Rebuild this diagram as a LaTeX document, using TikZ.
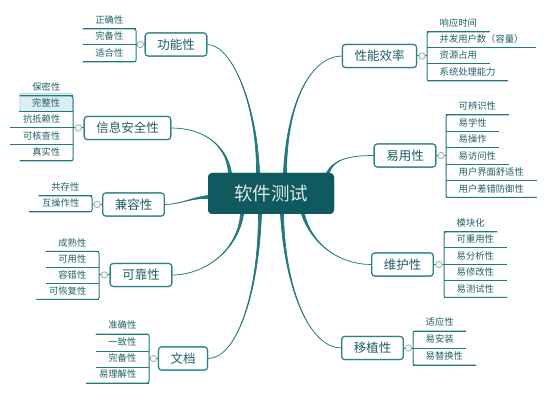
\documentclass[tikz,border=0pt]{standalone}
\usepackage{fontspec}
\setmainfont{Noto Sans CJK SC}
\usetikzlibrary{calc}
\definecolor{lc}{HTML}{22787E}
\definecolor{bc}{HTML}{2B7F86}
\definecolor{tc}{HTML}{1F5F66}
\definecolor{cf}{HTML}{10595F}
\definecolor{ct}{HTML}{DCE8E9}
\definecolor{hl}{HTML}{DDEEF3}
\definecolor{hlb}{HTML}{B9DAE3}
\definecolor{knobc}{HTML}{8FAFB1}
\tikzset{
 topic/.style={draw=bc, line width=1.1pt, rounded corners=3pt, fill=white, text=tc, font=\fontsize{12.5}{14}\selectfont, minimum height=23pt, inner xsep=12pt, inner ysep=0pt},
 central/.style={fill=cf, rounded corners=4pt, text=ct, font=\fontsize{18.5}{20}\selectfont, minimum width=126pt, minimum height=41pt},
 item/.style={text=tc, font=\fontsize{9.3}{11}\selectfont, inner xsep=12.5pt, inner ysep=5pt, text height=8pt, text depth=0pt},
 itemR/.style={item, anchor=south west},
 itemL/.style={item, anchor=south east},
 uline/.style={draw=lc, line width=1pt},
 knob/.style={circle, draw=knobc, fill=white!88!knobc, line width=0.7pt, minimum size=6.5pt, inner sep=0pt},
 branch/.style={fill=lc, draw=lc, line width=0.7pt},
}
\newcommand\tbranch[5]{\filldraw[branch] #1 .. controls #3 and #4 .. #5 .. controls #4 and #3 .. #2 -- cycle;}
\begin{document}
\begin{tikzpicture}[x=1pt,y=-1pt]
\useasboundingbox (0,0) rectangle (554,403);
% topics
\node[central] (c) at (271,193.5) {软件测试};
\node[topic] (gn) at (176,44.5) {功能性};
\node[topic] (sn) at (127.5,128) {信息安全性};
\node[topic] (jn) at (133.5,204.5) {兼容性};
\node[topic] (kn) at (141,275) {可靠性};
\node[topic] (wn) at (183,358.5) {文档};
\node[topic] (xn) at (379.5,56) {性能效率};
\node[topic] (yn) at (405,155.5) {易用性};
\node[topic] (hn) at (402.5,264.5) {维护性};
\node[topic] (zn) at (372.5,348) {移植性};
% branches
\tbranch{($(c.north)+(-14.5,0)$)}{($(c.north)+(-11.5,0)$)}{(257,105)}{(232,44.5)}{(gn.east)}
\tbranch{($(c.north)+(-42.5,0)$)}{($(c.north)+(-39.5,0)$)}{(226,142)}{(200,128)}{(sn.east)}
\tbranch{($(c.west)+(0,2)$)}{($(c.west)+(0,5)$)}{(190,198)}{(180,204.5)}{(jn.east)}
\tbranch{($(c.south)+(-30.5,0)$)}{($(c.south)+(-27.5,0)$)}{(238,250)}{(205,275)}{(kn.east)}
\tbranch{($(c.south)+(-12.5,0)$)}{($(c.south)+(-9.5,0)$)}{(258,300)}{(235,358.5)}{(wn.east)}
\tbranch{($(c.north)+(12.5,0)$)}{($(c.north)+(15.5,0)$)}{(287,100)}{(312,56)}{(xn.west)}
\tbranch{($(c.north)+(55.5,0)$)}{($(c.north)+(58.5,0)$)}{(333,160)}{(348,155.5)}{(yn.west)}
\tbranch{($(c.south)+(30.5,0)$)}{($(c.south)+(33.5,0)$)}{(312,245)}{(340,264.5)}{(hn.west)}
\tbranch{($(c.south)+(9.5,0)$)}{($(c.south)+(12.5,0)$)}{(285,290)}{(310,348)}{(zn.west)}
% redraw topics over branches
\node[central] at (c) {软件测试};
\node[topic] at (gn) {功能性};
\node[topic] at (sn) {信息安全性};
\node[topic] at (jn) {兼容性};
\node[topic] at (kn) {可靠性};
\node[topic] at (wn) {文档};
\node[topic] at (xn) {性能效率};
\node[topic] at (yn) {易用性};
\node[topic] at (hn) {维护性};
\node[topic] at (zn) {移植性};
% ---- 功能性
\foreach \t/\y [count=\i] in {正确性/29, 完备性/45, 适合性/62} {
  \node[itemL] (ga\i) at (136,\y) {\t};
  \draw[uline] (ga\i.south west) -- (ga\i.south east);}
\draw[uline, rounded corners=2pt] (ga1.south west) -- (ga1.south east) -- (ga3.south east) -- (ga3.south west);
\draw[uline] (gn.west) -- (gn.west -| ga1.south east);
\node[knob] (gk) at ($(gn.west)!0.5!(gn.west -| ga1.south east)$) {};
% ---- 信息安全性
\node[itemL, fill=hl, draw=hlb, line width=0.8pt, rounded corners=1pt] (sa2) at (73,112) {完整性};
\foreach \t/\y [count=\i] in {保密性/96, 完整性/112, 抗抵赖性/128, 可核查性/144.5, 真实性/161} {
  \ifnum\i=2\else\node[itemL] (sa\i) at (73,\y) {\t};\fi
  \draw[uline] (sa\i.south west) -- (sa\i.south east);}
\draw[uline, rounded corners=2pt] (sa1.south west) -- (sa1.south east) -- (sa5.south east) -- (sa5.south west);
\draw[uline] (sn.west) -- (sn.west -| sa1.south east);
\node[knob] (sk) at ($(sn.west)!0.5!(sn.west -| sa1.south east)$) {};
% ---- 兼容性
\foreach \t/\y [count=\i] in {共存性/196, 互操作性/212} {
  \node[itemL] (ja\i) at (92,\y) {\t};
  \draw[uline] (ja\i.south west) -- (ja\i.south east);}
\draw[uline, rounded corners=2pt] (ja1.south west) -- (ja1.south east) -- (ja2.south east) -- (ja2.south west);
\draw[uline] (jn.west) -- (jn.west -| ja1.south east);
\node[knob] (jk) at ($(jn.west)!0.5!(jn.west -| ja1.south east)$) {};
% ---- 可靠性
\foreach \t/\y [count=\i] in {成熟性/251.5, 可用性/267.5, 容错性/283.5, 可恢复性/299.5} {
  \node[itemL] (ka\i) at (99,\y) {\t};
  \draw[uline] (ka\i.south west) -- (ka\i.south east);}
\draw[uline, rounded corners=2pt] (ka1.south west) -- (ka1.south east) -- (ka4.south east) -- (ka4.south west);
\draw[uline] (kn.west) -- (kn.west -| ka1.south east);
\node[knob] (kk) at ($(kn.west)!0.5!(kn.west -| ka1.south east)$) {};
% ---- 文档
\foreach \t/\y [count=\i] in {准确性/334, 一致性/351, 完备性/367, 易理解性/383} {
  \node[itemL] (wa\i) at (149,\y) {\t};
  \draw[uline] (wa\i.south west) -- (wa\i.south east);}
\draw[uline, rounded corners=2pt] (wa1.south west) -- (wa1.south east) -- (wa4.south east) -- (wa4.south west);
\draw[uline] (wn.west) -- (wn.west -| wa1.south east);
\node[knob] (wk) at ($(wn.west)!0.5!(wn.west -| wa1.south east)$) {};
% ---- 性能效率
\foreach \t/\y [count=\i] in {响应时间/32, 并发用户数（容量）/48, 资源占用/64, 系统处理能力/81} {
  \node[itemR] (xa\i) at (427,\y) {\t};
  \draw[uline] (xa\i.south west) -- (xa\i.south east);}
\draw[uline, rounded corners=2pt] (xa1.south east) -- (xa1.south west) -- (xa4.south west) -- (xa4.south east);
\draw[uline] (xn.east) -- (xn.east -| xa1.south west);
\node[knob] (xk) at ($(xn.east)!0.5!(xn.east -| xa1.south west)$) {};
% ---- 易用性
\foreach \t/\y [count=\i] in {可辨识性/115, 易学性/131.5, 易操作/148, 易访问性/164.5, 用户界面舒适性/181, 用户差错防御性/197.5} {
  \node[itemR] (ya\i) at (446,\y) {\t};
  \draw[uline] (ya\i.south west) -- (ya\i.south east);}
\draw[uline, rounded corners=2pt] (ya1.south east) -- (ya1.south west) -- (ya6.south west) -- (ya6.south east);
\draw[uline] (yn.east) -- (yn.east -| ya1.south west);
\node[knob] (yk) at ($(yn.east)!0.5!(yn.east -| ya1.south west)$) {};
% ---- 维护性
\foreach \t/\y [count=\i] in {模块化/232, 可重用性/248, 易分析性/264.5, 易修改性/281, 易测试性/297.5} {
  \node[itemR] (ha\i) at (444,\y) {\t};
  \draw[uline] (ha\i.south west) -- (ha\i.south east);}
\draw[uline, rounded corners=2pt] (ha1.south east) -- (ha1.south west) -- (ha5.south west) -- (ha5.south east);
\draw[uline] (hn.east) -- (hn.east -| ha1.south west);
\node[knob] (hk) at ($(hn.east)!0.5!(hn.east -| ha1.south west)$) {};
% ---- 移植性
\foreach \t/\y [count=\i] in {适应性/331, 易安装/348, 易替换性/365} {
  \node[itemR] (za\i) at (413,\y) {\t};
  \draw[uline] (za\i.south west) -- (za\i.south east);}
\draw[uline, rounded corners=2pt] (za1.south east) -- (za1.south west) -- (za3.south west) -- (za3.south east);
\draw[uline] (zn.east) -- (zn.east -| za1.south west);
\node[knob] (zk) at ($(zn.east)!0.5!(zn.east -| za1.south west)$) {};
\end{tikzpicture}
\end{document}
